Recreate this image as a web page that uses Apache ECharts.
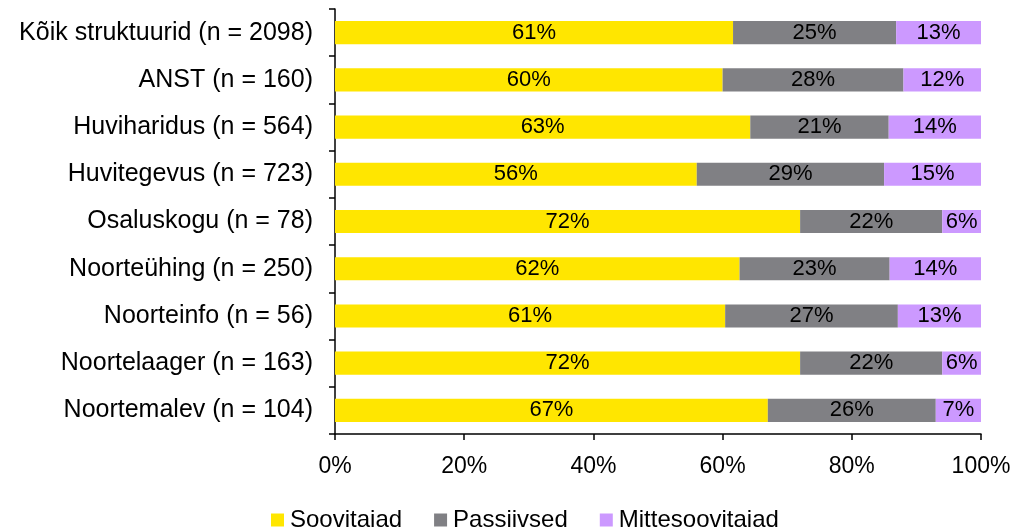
<!DOCTYPE html>
<html><head><meta charset="utf-8">
<script src="https://cdn.jsdelivr.net/npm/echarts@6/dist/echarts.min.js"></script>
<style>html,body{margin:0;padding:0;background:#fff}#c{width:1012px;height:527px}</style>
</head><body><div id="c"></div>
<script>
var categories = ['Kõik struktuurid (n = 2098)','ANST (n = 160)','Huviharidus (n = 564)','Huvitegevus (n = 723)','Osaluskogu (n = 78)','Noorteühing (n = 250)','Noorteinfo (n = 56)','Noortelaager (n = 163)','Noortemalev (n = 104)'];
var soovitajad = [61,60,63,56,72,62,61,72,67];
var passiivsed = [25,28,21,29,22,23,27,22,26];
var mittesoovitajad = [13,12,14,15,6,14,13,6,7];
var seriesNames = ['Soovitajad','Passiivsed','Mittesoovitajad'];
var colors = ['#FFE600','#808084','#CC99FF'];
var xTicks = ['0%','20%','40%','60%','80%','100%'];

var raw = [soovitajad, passiivsed, mittesoovitajad];
var totals = categories.map(function(_, i){ return soovitajad[i]+passiivsed[i]+mittesoovitajad[i]; });
var font = 'Liberation Sans';
var series = raw.map(function(arr, k){
  return {
    name: seriesNames[k], type: 'bar', stack: 'a', barCategoryGap: '51%',
    itemStyle: {color: colors[k]},
    data: arr.map(function(v, i){ return {value: v/totals[i]*100, raw: v}; }),
    label: {show: true, position: 'inside', color: '#000', fontFamily: font, fontSize: 22,
      formatter: function(p){ return p.data.raw + '%'; }}
  };
});
var chart = echarts.init(document.getElementById('c'));
chart.setOption({
  animation: false,
  color: colors,
  grid: {left: 335, right: 31, top: 9, bottom: 93, containLabel: false, outerBoundsMode: 'none'},
  legend: {top: 503, left: 266, itemWidth: 13, itemHeight: 13, itemGap: 32,
    icon: 'rect', textStyle: {fontFamily: font, fontSize: 24, color: '#000', padding: [0,0,0,1]}, data: seriesNames},
  xAxis: {type: 'value', min: 0, max: 100, interval: 20,
    axisLine: {show: true, lineStyle: {color: '#000', width: 1.5}},
    axisTick: {show: true, length: 6, lineStyle: {color: '#000', width: 1.5}},
    splitLine: {show: false},
    axisLabel: {margin: 21, fontFamily: font, fontSize: 23, color: '#000',
      formatter: function(v){ return xTicks[v/20]; }}},
  yAxis: {type: 'category', inverse: true, data: categories,
    axisLine: {show: true, lineStyle: {color: '#000', width: 1.5}},
    axisTick: {show: true, length: 6, lineStyle: {color: '#000', width: 1.5}},
    axisLabel: {margin: 22, fontFamily: font, fontSize: 25, color: '#000'}},
  series: series
});
</script></body></html>
